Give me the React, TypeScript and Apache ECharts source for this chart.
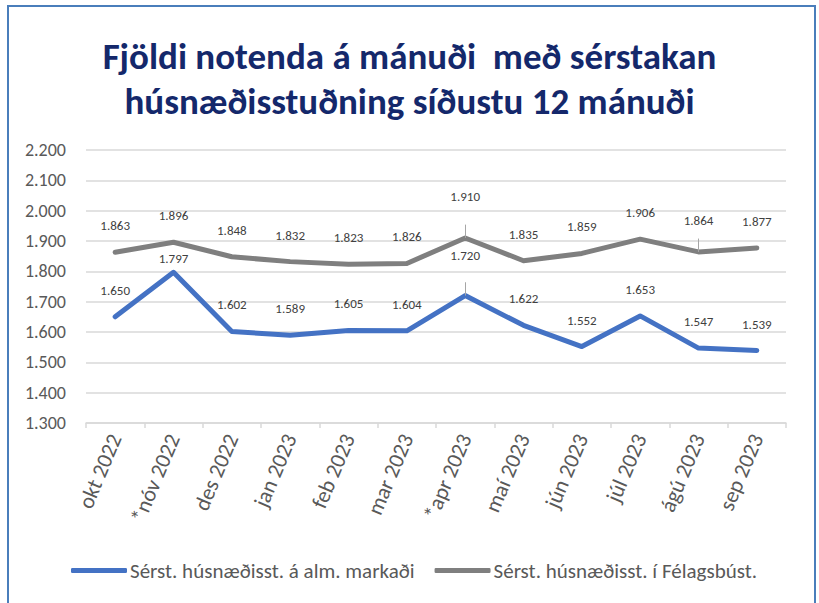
import React, { useEffect, useRef } from "react";
import * as echarts from "echarts";

const categories = [
  "okt 2022", "*nóv 2022", "des 2022", "jan 2023", "feb 2023", "mar 2023",
  "*apr 2023", "maí 2023", "jún 2023", "júl 2023", "ágú 2023", "sep 2023",
];
const almMarkadi = [1650, 1797, 1602, 1589, 1605, 1604, 1720, 1622, 1552, 1653, 1547, 1539];
const felagsbust = [1863, 1896, 1848, 1832, 1823, 1826, 1910, 1835, 1859, 1906, 1864, 1877];
const seriesNames = ["Sérst. húsnæðisst. á alm. markaði", "Sérst. húsnæðisst. í Félagsbúst."];
const titleText = "Fjöldi notenda á mánuði  með sérstakan\nhúsnæðisstuðning síðustu 12 mánuði";

const FONT = "Carlito, 'Open Sans', sans-serif";

const fmt = (v: number) => String(Math.round(v)).replace(/\B(?=(\d{3})+(?!\d))/g, ".");

// label offsets (style) by index
const blueOffsets: Record<number, number> = { 1: -1, 6: -28 };
const grayOffsets: Record<number, number> = { 6: -29, 10: -19 };

function buildData(values: number[], offsets: Record<number, number>) {
  return values.map((v, i) =>
    offsets[i] !== undefined ? { value: v, label: { offset: [0, offsets[i]] } } : v
  );
}

function leader(idx: number, value: number) {
  return [
    { coord: [idx, value], symbol: "none" },
    { coord: [idx, value + 44], symbol: "none" },
  ];
}

export default function App() {
  const ref = useRef<HTMLDivElement>(null);
  useEffect(() => {
    if (!ref.current) return;
    const chart = echarts.init(ref.current, null, { renderer: "svg" });
    const labelCommon = {
      show: true,
      position: "top",
      distance: 5,
      offset: [0, -14],
      fontSize: 13,
      color: "#404040",
      fontFamily: FONT,
      formatter: (p: any) => fmt(p.value),
    };
    const markLineCommon = {
      silent: true,
      symbol: "none",
      label: { show: false },
      lineStyle: { color: "#A6A6A6", width: 1, type: "solid" },
      emphasis: { disabled: true },
    };
    chart.setOption({
      animation: false,
      backgroundColor: "#ffffff",
      title: {
        text: titleText,
        left: "center",
        top: 29,
        textStyle: {
          fontFamily: FONT,
          fontSize: 37,
          fontWeight: "bold",
          color: "#14286B",
          lineHeight: 45,
        },
      },
      graphic: [
        {
          type: "rect",
          shape: { x: 8, y: 6, width: 807, height: 640 },
          style: { fill: "none", stroke: "#4A7EBB", lineWidth: 2 },
          silent: true,
        },
      ],
      legend: {
        left: 66,
        top: 555,
        icon: "roundRect",
        itemWidth: 56,
        itemHeight: 5,
        itemGap: 20,
        textStyle: { fontFamily: FONT, fontSize: 21, color: "#595959", padding: [0, 0, 0, -2] },
        data: seriesNames,
      },
      grid: { left: 86, right: 33, top: 150, bottom: 180, containLabel: false },
      xAxis: {
        type: "category",
        data: categories,
        boundaryGap: true,
        axisLine: { lineStyle: { color: "#D9D9D9", width: 1.5 } },
        axisTick: { show: true, length: 5, lineStyle: { color: "#D9D9D9", width: 1.5 } },
        axisLabel: {
          rotate: 67,
          fontFamily: FONT,
          fontSize: 22,
          color: "#595959",
          margin: 12,
          interval: 0,
        },
      },
      yAxis: {
        type: "value",
        min: 1300,
        max: 2200,
        interval: 100,
        axisLine: { show: false },
        axisTick: { show: false },
        splitLine: { lineStyle: { color: "#D9D9D9", width: 1.5 } },
        axisLabel: {
          fontFamily: FONT,
          fontSize: 18,
          color: "#595959",
          margin: 20,
          formatter: (v: number) => fmt(v),
        },
      },
      series: [
        {
          name: seriesNames[0],
          type: "line",
          data: buildData(almMarkadi, blueOffsets),
          symbol: "circle",
          symbolSize: 2,
          showSymbol: true,
          itemStyle: { color: "#4472C4" },
          color: "#4472C4",
          lineStyle: { width: 5, color: "#4472C4", cap: "round", join: "round" },
          label: labelCommon,
          markLine: { ...markLineCommon, data: [leader(6, almMarkadi[6])] },
          z: 3,
        },
        {
          name: seriesNames[1],
          type: "line",
          data: buildData(felagsbust, grayOffsets),
          symbol: "circle",
          symbolSize: 2,
          showSymbol: true,
          itemStyle: { color: "#7F7F7F" },
          color: "#7F7F7F",
          lineStyle: { width: 5, color: "#7F7F7F", cap: "round", join: "round" },
          label: labelCommon,
          markLine: {
            ...markLineCommon,
            data: [leader(6, felagsbust[6]), leader(10, felagsbust[10])],
          },
          z: 2,
        },
      ],
    });
    return () => chart.dispose();
  }, []);
  return (
    <div
      ref={ref}
      style={{ position: "absolute", left: 0, top: 0, width: 819, height: 603 }}
    />
  );
}
